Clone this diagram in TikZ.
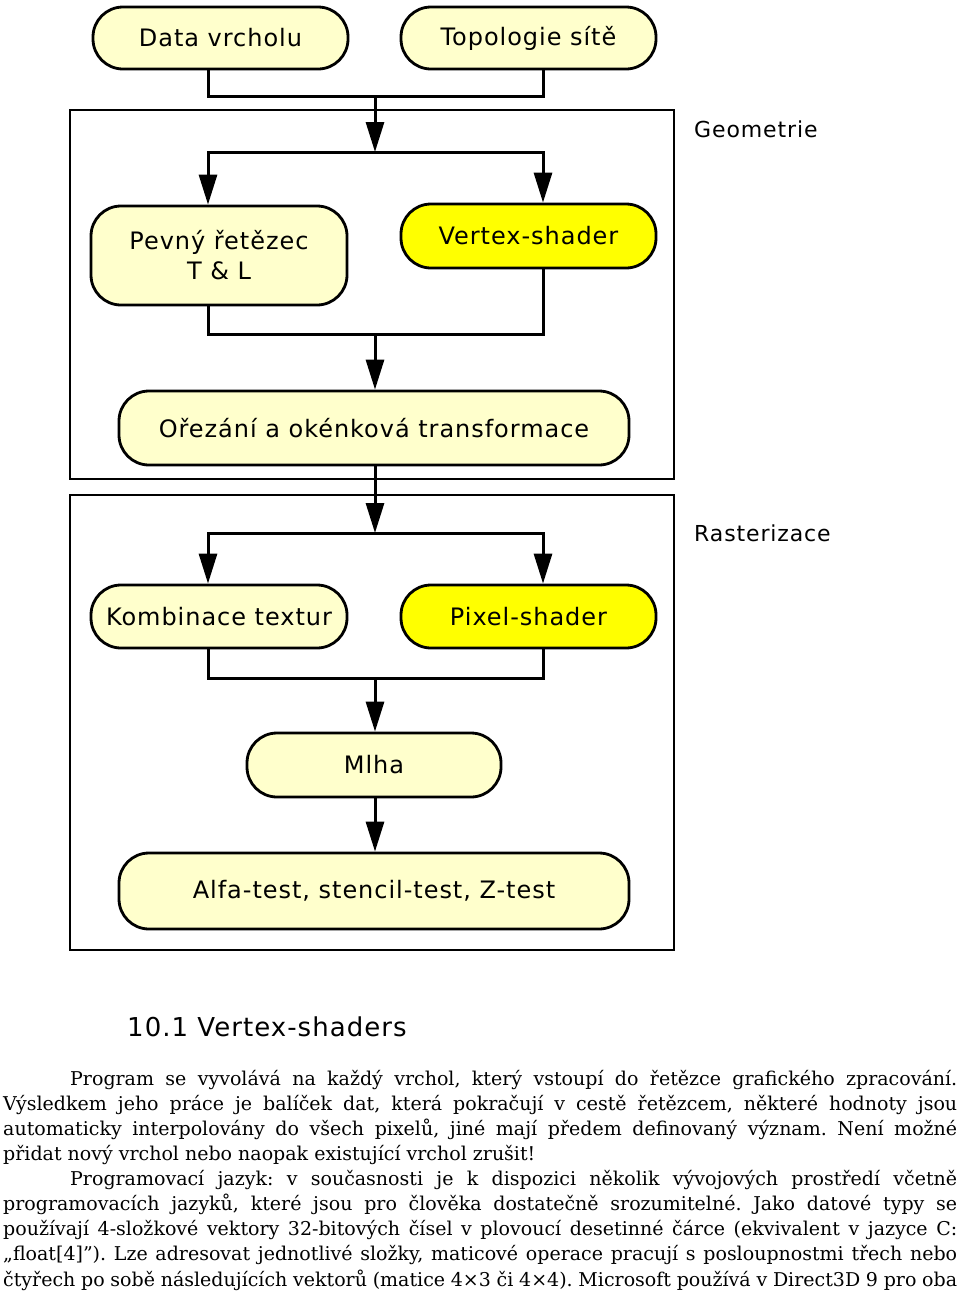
\documentclass[tikz,border=0pt]{standalone}
\usepackage{fontspec}
\setmainfont{DejaVu Serif}
\newfontfamily\boxfont{DejaVu Sans}[LetterSpace=4]
\usetikzlibrary{arrows.meta}
\definecolor{cream}{RGB}{255,255,204}
\definecolor{yel}{RGB}{255,255,0}
\newcommand\jline[2]{\makebox[#1][s]{#2}}
\frenchspacing
\begin{document}
\begin{tikzpicture}[x=1pt,y=-1pt,
  stage/.style={draw, line width=2.8pt, rounded corners=30pt, fill=cream,
    font=\boxfont\fontsize{24}{30}\selectfont, align=center, inner sep=0pt},
  hot/.style={stage, fill=yel},
  frame/.style={draw, line width=2pt, inner sep=0pt},
  link/.style={line width=3pt},
  arr/.style={line width=3pt, -{Triangle[length=30pt,width=18pt]}},
  lbl/.style={font=\boxfont\fontsize{22}{27}\selectfont, anchor=west, inner sep=0pt},
  txt/.style={anchor=base west, inner sep=0pt, font=\fontsize{19}{25}\selectfont}]
\useasboundingbox (0,0) rectangle (960,1294);

% frames
\node[frame, minimum width=604pt, minimum height=369pt] (geo) at (372,294.5) {};
\node[frame, minimum width=604pt, minimum height=455pt] (ras) at (372,722.5) {};
\node[lbl] (geol) at (694,129) {Geometrie};
\node[lbl] (rasl) at (694,533) {Rasterizace};

% stages
\node[stage, minimum width=255pt, minimum height=62pt] (dv) at (220.5,38) {Data vrcholu};
\node[stage, minimum width=255pt, minimum height=62pt] (ts) at (528.5,38) {Topologie sítě};
\node[stage, minimum width=256pt, minimum height=99pt] (pr) at (219,255.5) {Pevný řetězec\\T \& L};
\node[hot, minimum width=255pt, minimum height=64pt] (vs) at (528.5,236) {Vertex-shader};
\node[stage, minimum width=510pt, minimum height=74pt] (or) at (374,428) {Ořezání a okénková transformace};
\node[stage, minimum width=256pt, minimum height=63pt] (kt) at (219,616.5) {Kombinace textur};
\node[hot, minimum width=255pt, minimum height=63pt] (ps) at (528.5,616.5) {Pixel-shader};
\node[stage, minimum width=254pt, minimum height=64pt] (ml) at (374,765) {Mlha};
\node[stage, minimum width=510pt, minimum height=76pt] (at) at (374,891) {Alfa-test, stencil-test, Z-test};

% helper columns and junctions
\coordinate (xl) at (208,0);
\coordinate (xr) at (543,0);
\coordinate (m1) at (375,96);
\coordinate (s1) at (375,152);
\coordinate (m2) at (375,334);
\coordinate (s2) at (375,533);
\coordinate (m3) at (375,678);

% connectors
\draw[link] (dv.south -| xl) |- (m1) -| (ts.south -| xr);
\draw[arr] (m1) -- (s1);
\draw[arr] (s1) -| (pr.north -| xl);
\draw[arr] (s1) -| (vs.north -| xr);
\draw[link] (pr.south -| xl) |- (m2) -| (vs.south -| xr);
\draw[arr] (m2) -- (or.north -| m2);
\draw[arr] (or.south -| s2) -- (s2);
\draw[arr] (s2) -| (kt.north -| xl);
\draw[arr] (s2) -| (ps.north -| xr);
\draw[link] (kt.south -| xl) |- (m3) -| (ps.south -| xr);
\draw[arr] (m3) -- (ml.north -| m3);
\draw[arr] (ml.south -| m3) -- (at.north -| m3);

% heading and text
\node[anchor=base west, inner sep=0pt, font=\boxfont\fontsize{26}{30}\selectfont] (hd) at (127,1036) {10.1 Vertex-shaders};
\node[txt] (l1) at (70,1085) {\jline{887pt}{Program se vyvolává na každý vrchol, který vstoupí do řetězce grafického zpracování.}};
\node[txt] (l2) at (3,1110) {\jline{954pt}{Výsledkem jeho práce je balíček dat, která pokračují v cestě řetězcem, některé hodnoty jsou}};
\node[txt] (l3) at (3,1135) {\jline{954pt}{automaticky interpolovány do všech pixelů, jiné mají předem definovaný význam. Není možné}};
\node[txt] (l4) at (3,1160) {přidat nový vrchol nebo naopak existující vrchol zrušit!};
\node[txt] (l5) at (70,1185) {\jline{887pt}{Programovací jazyk: v současnosti je k dispozici několik vývojových prostředí včetně}};
\node[txt] (l6) at (3,1210) {\jline{954pt}{programovacích jazyků, které jsou pro člověka dostatečně srozumitelné. Jako datové typy se}};
\node[txt] (l7) at (3,1235) {\jline{954pt}{používají 4-složkové vektory 32-bitových čísel v plovoucí desetinné čárce (ekvivalent v jazyce C:}};
\node[txt] (l8) at (3,1260) {\jline{954pt}{„float[4]”). Lze adresovat jednotlivé složky, maticové operace pracují s posloupnostmi třech nebo}};
\node[txt] (l9) at (3,1286) {\jline{954pt}{čtyřech po sobě následujících vektorů (matice 4×3 či 4×4). Microsoft používá v Direct3D 9 pro oba}};
\end{tikzpicture}
\end{document}
